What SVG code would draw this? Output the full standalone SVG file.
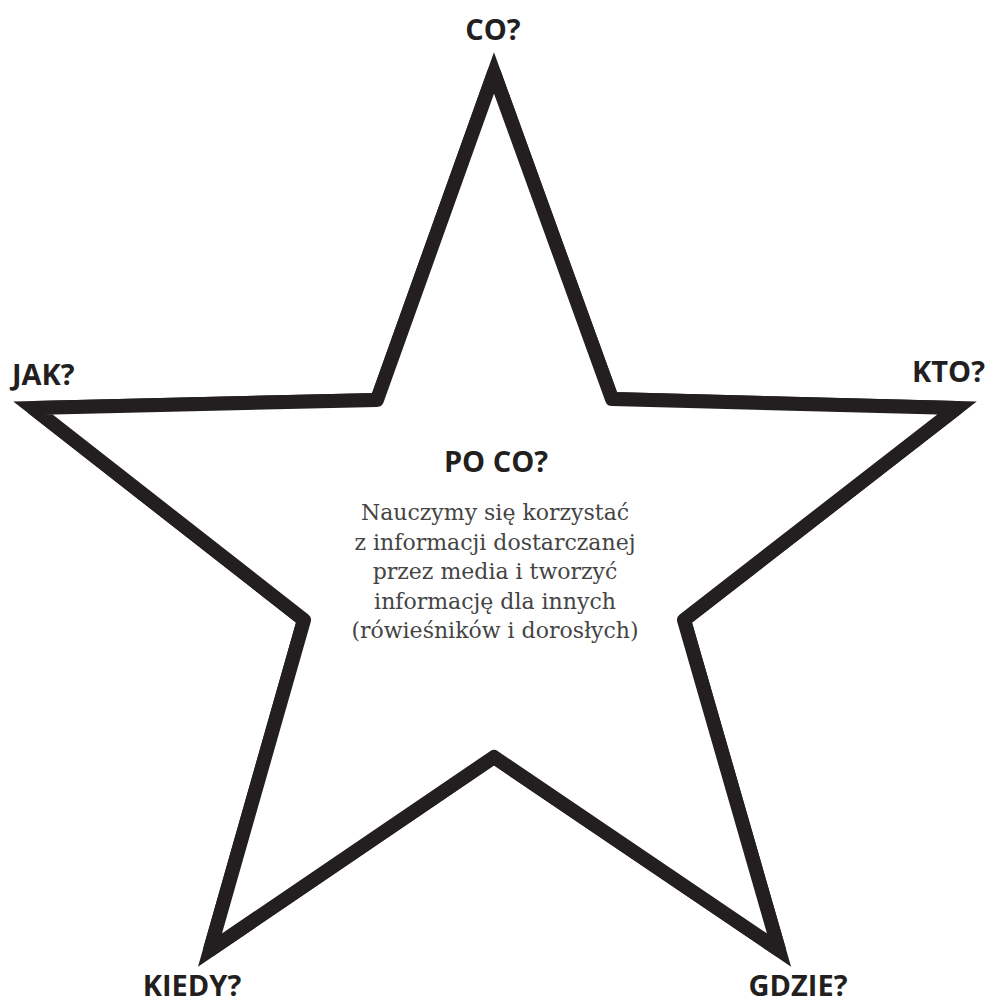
<svg xmlns="http://www.w3.org/2000/svg" width="992" height="1003" viewBox="0 0 992 1003">
  <style>
    .star { fill: none; stroke: #231f20; stroke-width: 14; }
    .lbl { font-family: "Open Sans", "Noto Sans", sans-serif; font-weight: 700; font-size: 29px; fill: #231f20; }
    .body { font-family: "DejaVu Serif", "Liberation Serif", serif; font-size: 22px; fill: #444444; text-anchor: middle; }
  </style>
  <defs>
    <clipPath id="outside">
      <path clip-rule="evenodd" d="M-50 -50H1050V1050H-50Z M494 73 L612 399 L957 408 L684 620 L779 950 L494 757 L210 950 L304 620 L33 408 L377 400 Z"/>
    </clipPath>
  </defs>
  <rect width="992" height="1003" fill="#ffffff"/>
  <g id="star">
    <path class="star" stroke-linejoin="round" d="M494 73 L612 399 L957 408 L684 620 L779 950 L494 757 L210 950 L304 620 L33 408 L377 400 Z"/>
    <path class="star" stroke-linejoin="miter" stroke-miterlimit="6" clip-path="url(#outside)" d="M494 73 L612 399 L957 408 L684 620 L779 950 L494 757 L210 950 L304 620 L33 408 L377 400 Z"/>
  </g>
  <g id="label-co"><text class="lbl" x="493" y="40" text-anchor="middle">CO?</text></g>
  <g id="label-jak"><text class="lbl" x="12" y="385" text-anchor="start">JAK?</text></g>
  <g id="label-kto"><text class="lbl" x="985" y="382" text-anchor="end">KTO?</text></g>
  <g id="label-kiedy"><text class="lbl" x="192" y="996" text-anchor="middle">KIEDY?</text></g>
  <g id="label-gdzie"><text class="lbl" x="798" y="996" text-anchor="middle">GDZIE?</text></g>
  <g id="center">
    <text class="lbl" x="496" y="472" text-anchor="middle">PO CO?</text>
    <text class="body" x="495" y="520">Nauczymy się korzystać</text>
    <text class="body" x="495" y="549.5">z informacji dostarczanej</text>
    <text class="body" x="495" y="579">przez media i tworzyć</text>
    <text class="body" x="495" y="608.5">informację dla innych</text>
    <text class="body" x="495" y="638">(rówieśników i dorosłych)</text>
  </g>
</svg>
